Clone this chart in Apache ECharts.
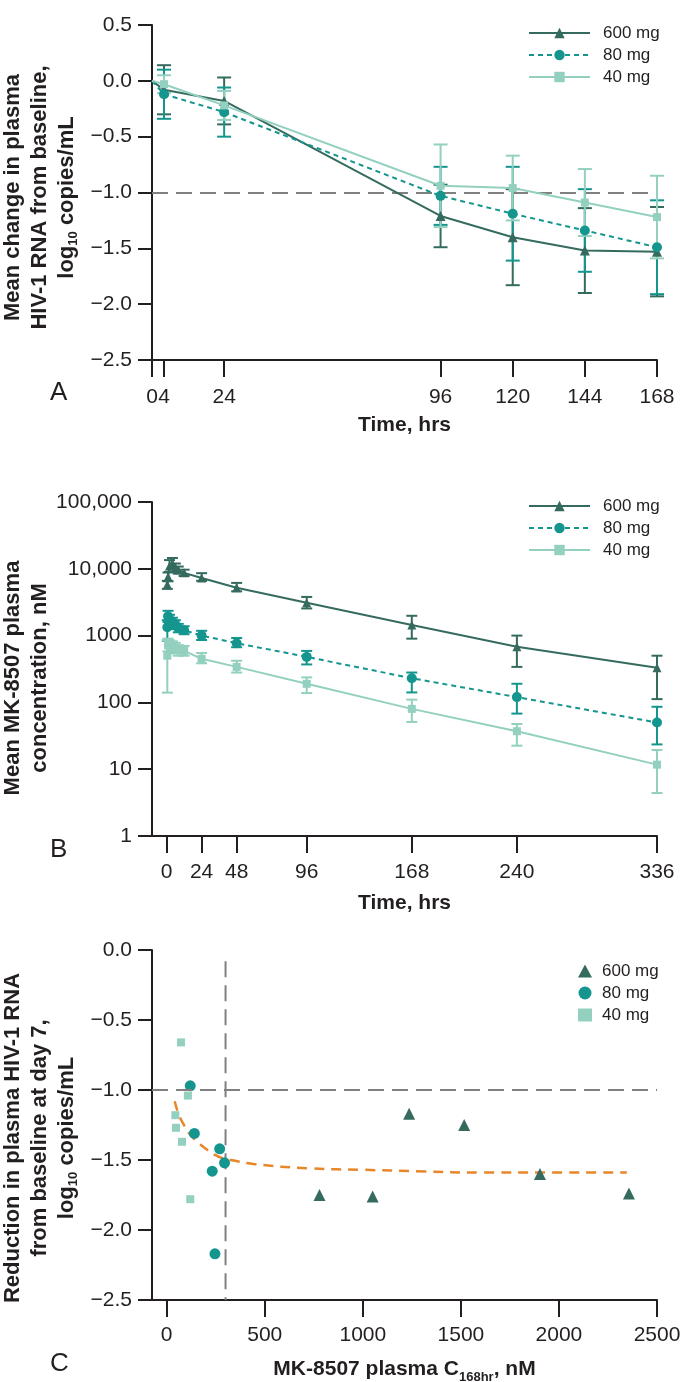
<!DOCTYPE html>
<html>
<head>
<meta charset="utf-8">
<script src="https://cdn.jsdelivr.net/npm/echarts@6/dist/echarts.min.js"></script>
<style>
html,body{margin:0;padding:0;background:#fff;}
#chart{width:681px;height:1382px;}
</style>
</head>
<body>
<div id="chart"></div>
<script>
// ---------- Panel A: mean change in HIV-1 RNA ----------
const A_TIME = [0, 4, 24, 96, 120, 144, 168];
const A_600 = [0, -0.08, -0.18, -1.21, -1.40, -1.52, -1.53];
const A_600_SD = [0, 0.22, 0.21, 0.28, 0.43, 0.38, 0.40];
const A_80 = [0, -0.12, -0.28, -1.03, -1.19, -1.34, -1.49];
const A_80_SD = [0, 0.22, 0.22, 0.26, 0.42, 0.37, 0.42];
const A_40 = [0, -0.03, -0.22, -0.94, -0.96, -1.09, -1.22];
const A_40_SD = [0, 0.08, 0.13, 0.37, 0.29, 0.30, 0.37];
const A_X_TICKS = [0, 4, 24, 96, 120, 144, 168];
const A_Y_TICKS = [-2.5, -2.0, -1.5, -1.0, -0.5, 0.0, 0.5];
const A_Y_LABELS = ['\u22122.5', '\u22122.0', '\u22121.5', '\u22121.0', '\u22120.5', '0.0', '0.5'];
const A_REF = -1.0;

// ---------- Panel B: plasma concentration ----------
const B_TIME = [0.5, 1, 2, 4, 6, 8, 12, 24, 48, 96, 168, 240, 336];
const B_600 = [5800, 7600, 11000, 12000, 10500, 9600, 8700, 7300, 5200, 3100, 1440, 680, 330];
const B_600_LO = [5000, 6500, 9000, 10000, 9000, 8500, 7800, 6600, 4600, 2550, 900, 340, 112];
const B_600_HI = [6600, 8800, 13500, 14500, 12000, 10800, 9700, 8600, 6150, 3790, 1980, 1000, 500];
const B_80 = [1330, 1950, 1750, 1600, 1450, 1300, 1200, 1000, 770, 480, 230, 120, 50];
const B_80_LO = [840, 1600, 1500, 1400, 1250, 1120, 1050, 860, 670, 370, 141, 68, 23.5];
const B_80_HI = [1700, 2350, 2050, 1850, 1700, 1500, 1380, 1180, 920, 590, 280, 190, 86];
const B_40 = [500, 720, 700, 690, 660, 620, 590, 450, 340, 190, 80, 37, 11.7];
const B_40_LO = [140, 580, 560, 570, 540, 500, 500, 385, 280, 138, 51, 22.5, 4.4];
const B_40_HI = [860, 900, 850, 820, 780, 720, 700, 550, 420, 237, 110, 47.5, 19.4];
const B_X_TICKS = [0, 24, 48, 96, 168, 240, 336];
const B_Y_TICKS = [1, 10, 100, 1000, 10000, 100000];
const B_Y_LABELS = ['1', '10', '100', '1000', '10,000', '100,000'];

// ---------- Panel C: reduction vs C168hr ----------
const C_600_X = [779, 1050, 1236, 1517, 1903, 2357];
const C_600_Y = [-1.75, -1.76, -1.17, -1.25, -1.60, -1.74];
const C_80_X = [120, 141, 232, 246, 270, 295];
const C_80_Y = [-0.97, -1.31, -1.58, -2.17, -1.42, -1.52];
const C_40_X = [44, 47, 73, 78, 108, 120];
const C_40_Y = [-1.18, -1.27, -0.66, -1.37, -1.04, -1.78];
const C_FIT_X = [41, 60, 88, 120, 156, 200, 241, 290, 326, 450, 733, 1000, 1276, 1616, 2000, 2346];
const C_FIT_Y = [-1.08, -1.17, -1.25, -1.32, -1.37, -1.42, -1.46, -1.49, -1.50, -1.53, -1.56, -1.57, -1.58, -1.59, -1.59, -1.59];
const C_X_TICKS = [0, 500, 1000, 1500, 2000, 2500];
const C_X_LABELS = ['0', '500', '1000', '1500', '2000', '2500'];
const C_Y_TICKS = [-2.5, -2.0, -1.5, -1.0, -0.5, 0.0];
const C_Y_LABELS = ['\u22122.5', '\u22122.0', '\u22121.5', '\u22121.0', '\u22120.5', '0.0'];
const C_HREF = -1.0;
const C_VREF_X = 300;
const C_VREF_Y = [-0.08, -2.5];

const DOSE_LABELS = ['600 mg', '80 mg', '40 mg'];

// ---------- styling ----------
const FONT = 'Liberation Sans, Arial, Helvetica, sans-serif';
const INK = '#231f20';
const C_DARK = '#356b5f';
const C_TEAL = '#14968f';
const C_LIGHT = '#93d0bf';
const C_ORANGE = '#e8862a';
const C_GREY = '#808080';

const NAME_MAP = {
  a600: DOSE_LABELS[0], a80: DOSE_LABELS[1], a40: DOSE_LABELS[2],
  b600: DOSE_LABELS[0], b80: DOSE_LABELS[1], b40: DOSE_LABELS[2],
  c600: DOSE_LABELS[0], c80: DOSE_LABELS[1], c40: DOSE_LABELS[2]
};

function labelFrom(ticks, labels) {
  return function (v) {
    for (let i = 0; i < ticks.length; i++) {
      if (Math.abs(ticks[i] - v) < 1e-6 * Math.max(1, Math.abs(v))) return labels[i];
    }
    return '';
  };
}

function errRender(color, cap, width) {
  return function (params, api) {
    const x = api.value(0), lo = api.value(1), hi = api.value(2);
    const p1 = api.coord([x, lo]);
    const p2 = api.coord([x, hi]);
    const hw = cap / 2;
    const st = { stroke: color, lineWidth: width };
    return {
      type: 'group',
      children: [
        { type: 'line', shape: { x1: p1[0], y1: p1[1], x2: p2[0], y2: p2[1] }, style: st },
        { type: 'line', shape: { x1: p1[0] - hw, y1: p1[1], x2: p1[0] + hw, y2: p1[1] }, style: st },
        { type: 'line', shape: { x1: p2[0] - hw, y1: p2[1], x2: p2[0] + hw, y2: p2[1] }, style: st }
      ]
    };
  };
}

const axisLineStyle = { color: INK, width: 2 };
const tickLabelStyle = { fontSize: 21, color: INK, fontFamily: FONT };
const titleStyle = { fontSize: 21, fontWeight: 'bold', color: INK, fontFamily: FONT };
function yTitleStyle(shift) {
  return {
    fontSize: 22, fontWeight: 'bold', color: INK, fontFamily: FONT, lineHeight: 27, align: 'center',
    padding: [0, shift, 0, 0],
    rich: { s: { fontSize: 13, fontWeight: 'bold', color: INK, fontFamily: FONT, verticalAlign: 'bottom', lineHeight: 27 } }
  };
}

// ---------- series ----------
const series = [];

// Panel A
const aSets = [
  ['a600', A_600, A_600_SD, C_DARK, 'triangle', 10, 'solid'],
  ['a80', A_80, A_80_SD, C_TEAL, 'circle', 10, [5, 4]],
  ['a40', A_40, A_40_SD, C_LIGHT, 'rect', 8, 'solid']
];
aSets.forEach(function (s) {
  series.push({
    name: s[0] + 'err', type: 'custom', xAxisIndex: 0, yAxisIndex: 0, z: 2,
    renderItem: errRender(s[3], 14, 2),
    encode: { x: 0, y: [1, 2] },
    data: A_TIME.slice(1).map(function (t, i) { return [t, s[1][i + 1] - s[2][i + 1], s[1][i + 1] + s[2][i + 1]]; })
  });
});
aSets.forEach(function (s, k) {
  const ser = {
    name: s[0], type: 'line', xAxisIndex: 0, yAxisIndex: 0, z: 3,
    symbol: s[4], symbolSize: s[5],
    itemStyle: { color: s[3] },
    lineStyle: { color: s[3], width: 2, type: s[6] },
    data: A_TIME.map(function (t, i) {
      return i === 0 ? { value: [t, s[1][i]], symbol: 'none' } : [t, s[1][i]];
    })
  };
  if (k === 0) {
    ser.markLine = {
      silent: true, symbol: 'none', z: 1,
      label: { show: false },
      lineStyle: { color: C_GREY, width: 2, type: [16, 8] },
      data: [{ yAxis: A_REF }]
    };
  }
  series.push(ser);
});

// Panel B
const bSets = [
  ['b600', B_600, B_600_LO, B_600_HI, C_DARK, 'triangle', 9, 'solid'],
  ['b80', B_80, B_80_LO, B_80_HI, C_TEAL, 'circle', 10, [5, 4]],
  ['b40', B_40, B_40_LO, B_40_HI, C_LIGHT, 'rect', 8, 'solid']
];
bSets.forEach(function (s) {
  series.push({
    name: s[0] + 'err', type: 'custom', xAxisIndex: 1, yAxisIndex: 1, z: 2,
    renderItem: errRender(s[4], 11, 2),
    encode: { x: 0, y: [1, 2] },
    data: B_TIME.map(function (t, i) { return [t, s[2][i], s[3][i]]; })
  });
});
bSets.forEach(function (s) {
  series.push({
    name: s[0], type: 'line', xAxisIndex: 1, yAxisIndex: 1, z: 3,
    symbol: s[5], symbolSize: s[6],
    itemStyle: { color: s[4] },
    lineStyle: { color: s[4], width: 2, type: s[7] },
    data: B_TIME.map(function (t, i) { return [t, s[1][i]]; })
  });
});

// Panel C
series.push({
  name: 'cref', type: 'line', xAxisIndex: 2, yAxisIndex: 2, z: 1,
  symbol: 'none', silent: true,
  lineStyle: { color: C_GREY, width: 2, type: [16, 8] },
  data: C_VREF_Y.map(function (y) { return [C_VREF_X, y]; }),
  markLine: {
    silent: true, symbol: 'none', label: { show: false },
    lineStyle: { color: C_GREY, width: 2, type: [16, 8] },
    data: [{ yAxis: C_HREF }]
  }
});
series.push({
  name: 'cfit', type: 'line', xAxisIndex: 2, yAxisIndex: 2, z: 2,
  symbol: 'none', smooth: true, silent: true,
  lineStyle: { color: C_ORANGE, width: 2.5, type: [10, 7] },
  data: C_FIT_X.map(function (x, i) { return [x, C_FIT_Y[i]]; })
});
[
  ['c600', C_600_X, C_600_Y, C_DARK, 'triangle', 12],
  ['c80', C_80_X, C_80_Y, C_TEAL, 'circle', 11],
  ['c40', C_40_X, C_40_Y, C_LIGHT, 'rect', 8]
].forEach(function (s) {
  series.push({
    name: s[0], type: 'scatter', xAxisIndex: 2, yAxisIndex: 2, z: 3,
    symbol: s[4], symbolSize: s[5],
    itemStyle: { color: s[3], opacity: 1 },
    data: s[1].map(function (x, i) { return [x, s[2][i]]; })
  });
});

function legendCfg(names, left, top, itemWidth, pad) {
  return {
    data: names, left: left, top: top, orient: 'vertical',
    itemWidth: itemWidth, itemHeight: 13, itemGap: 2,
    selectedMode: false,
    formatter: function (n) { return NAME_MAP[n]; },
    textStyle: { fontSize: 17, color: INK, fontFamily: FONT, lineHeight: 20, padding: [0, 0, 0, pad] }
  };
}

const gridBase = { outerBoundsMode: 'none', containLabel: false };

const option = {
  animation: false,
  backgroundColor: '#ffffff',
  textStyle: { fontFamily: FONT },
  grid: [
    Object.assign({ left: 152, top: 25, width: 505, height: 335 }, gridBase),
    Object.assign({ left: 152, top: 502, width: 505, height: 334 }, gridBase),
    Object.assign({ left: 152, top: 950, width: 505, height: 350 }, gridBase)
  ],
  legend: [
    legendCfg(['a600', 'a80', 'a40'], 523, 18, 61, 8),
    legendCfg(['b600', 'b80', 'b40'], 523, 491, 61, 8),
    legendCfg(['c600', 'c80', 'c40'], 573, 956, 14, 5)
  ],
  xAxis: [
    {
      gridIndex: 0, type: 'value', min: 0, max: 168,
      axisLine: { show: true, onZero: false, lineStyle: axisLineStyle },
      axisTick: { show: true, customValues: A_X_TICKS, length: 17, lineStyle: axisLineStyle },
      axisLabel: { customValues: A_X_TICKS, margin: 27, ...tickLabelStyle },
      splitLine: { show: false },
      name: 'Time, hrs', nameLocation: 'middle', nameGap: 55, nameMoveOverlap: false, nameTextStyle: titleStyle
    },
    {
      gridIndex: 1, type: 'value', min: -10, max: 336,
      axisLine: { show: true, onZero: false, lineStyle: axisLineStyle },
      axisTick: { show: true, customValues: B_X_TICKS, length: 17, lineStyle: axisLineStyle },
      axisLabel: { customValues: B_X_TICKS, margin: 26, ...tickLabelStyle },
      splitLine: { show: false },
      name: 'Time, hrs', nameLocation: 'middle', nameGap: 57, nameMoveOverlap: false, nameTextStyle: titleStyle
    },
    {
      gridIndex: 2, type: 'value', min: -75, max: 2500,
      axisLine: { show: true, onZero: false, lineStyle: axisLineStyle },
      axisTick: { show: true, customValues: C_X_TICKS, length: 17, lineStyle: axisLineStyle },
      axisLabel: { customValues: C_X_TICKS, margin: 25, formatter: labelFrom(C_X_TICKS, C_X_LABELS), ...tickLabelStyle },
      splitLine: { show: false },
      name: 'MK-8507 plasma C{s|168hr}, nM', nameLocation: 'middle', nameGap: 54, nameMoveOverlap: false,
      nameTextStyle: Object.assign({}, titleStyle, {
        rich: { s: { fontSize: 13, fontWeight: 'bold', color: INK, fontFamily: FONT, verticalAlign: 'bottom', lineHeight: 30 } },
        lineHeight: 24
      })
    }
  ],
  yAxis: [
    {
      gridIndex: 0, type: 'value', min: -2.5, max: 0.5, interval: 0.5,
      axisLine: { show: true, onZero: false, lineStyle: axisLineStyle },
      axisTick: { show: true, length: 14, lineStyle: axisLineStyle },
      axisLabel: { margin: 20, formatter: labelFrom(A_Y_TICKS, A_Y_LABELS), ...tickLabelStyle },
      splitLine: { show: false },
      name: 'Mean change in plasma\nHIV-1 RNA from baseline,\nlog{s|10} copies/mL',
      nameLocation: 'middle', nameGap: 72, nameMoveOverlap: false, nameRotate: 90, nameTextStyle: yTitleStyle(10)
    },
    {
      gridIndex: 1, type: 'log', logBase: 10, min: 1, max: 100000,
      axisLine: { show: true, onZero: false, lineStyle: axisLineStyle },
      axisTick: { show: true, length: 14, lineStyle: axisLineStyle },
      axisLabel: { margin: 20, formatter: labelFrom(B_Y_TICKS, B_Y_LABELS), ...tickLabelStyle },
      minorTick: { show: false },
      splitLine: { show: false },
      name: 'Mean MK-8507 plasma\nconcentration, nM',
      nameLocation: 'middle', nameGap: 99, nameMoveOverlap: false, nameRotate: 90, nameTextStyle: yTitleStyle(18)
    },
    {
      gridIndex: 2, type: 'value', min: -2.5, max: 0, interval: 0.5,
      axisLine: { show: true, onZero: false, lineStyle: axisLineStyle },
      axisTick: { show: true, length: 14, lineStyle: axisLineStyle },
      axisLabel: { margin: 20, formatter: labelFrom(C_Y_TICKS, C_Y_LABELS), ...tickLabelStyle },
      splitLine: { show: false },
      name: 'Reduction in plasma HIV-1 RNA\nfrom baseline at day 7,\nlog{s|10} copies/mL',
      nameLocation: 'middle', nameGap: 72, nameMoveOverlap: false, nameRotate: 90, nameTextStyle: yTitleStyle(26)
    }
  ],
  graphic: [
    { type: 'text', left: 50, top: 380, style: { text: 'A', fontSize: 26, fill: INK, fontFamily: FONT } },
    { type: 'text', left: 50, top: 837, style: { text: 'B', fontSize: 26, fill: INK, fontFamily: FONT } },
    { type: 'text', left: 50, top: 1351, style: { text: 'C', fontSize: 26, fill: INK, fontFamily: FONT } }
  ],
  series: series
};

const chart = echarts.init(document.getElementById('chart'), null, { renderer: 'canvas' });
chart.setOption(option);
</script>
</body>
</html>
